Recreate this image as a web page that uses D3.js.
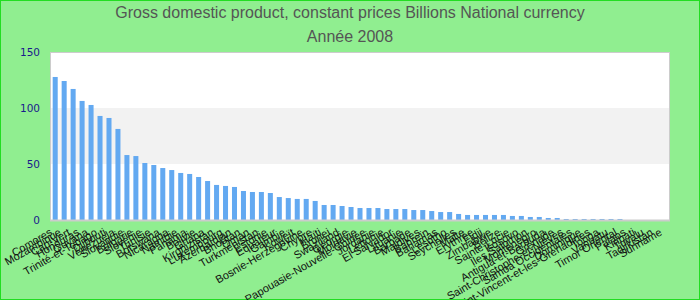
<!DOCTYPE html>
<html>
<head>
<meta charset="UTF-8">
<title>GDP constant prices 2008</title>
<script src="https://d3js.org/d3.v7.min.js"></script>
<style>
  body {margin: 0; background: #90ee90;}
  .title {font-family: "Liberation Sans", Arial, sans-serif; fill: #555; text-anchor: middle;}
  .yaxis text {font-family: "DejaVu Sans", Verdana, sans-serif; font-size: 10.5px; fill: #1a1a8c;}
  .xaxis text {font-family: "Liberation Sans", Arial, sans-serif; font-size: 11px; fill: #111;}
</style>
</head>
<body>
<div id="chart"></div>
<script>
// categories, in the order of the bars
var countries = ["Comores", "Mozambique", "Cap-Vert", "Honduras", "Guyana", "Trinité-et-Tobago",
  "Djibouti", "Vénézuela", "Slovaquie", "Bulgarie", "Slovénie", "Tunisie", "Botswana", "Nicaragua",
  "Namibie", "Panama", "Bolivie", "Ghana", "Kirghizistan", "Luxembourg", "Azerbaïdjan", "Bhoutan",
  "Oman", "Turkménistan", "Estonie", "Equateur", "Gambie", "Koweït", "Bosnie-Herzégovine", "Chypre",
  "Haïti", "Brunei", "Swaziland", "Géorgie", "Moldavie", "Papouasie-Nouvelle-Guinée", "Jordanie",
  "Lettonie", "El Salvador", "Lituanie", "Barbade", "Maldives", "Bahreïn", "Bahamas", "Lesotho",
  "Seychelles", "Malte", "Érythrée", "Fidji", "Zimbabwe", "Belize", "Sainte-Lucie", "Kosovo",
  "Îles Salomon", "Monténégro", "Antigua-et-Barbuda", "Grenade", "Saint-Christophe-et-Niévès",
  "Samoa Occidentales", "Dominique", "Saint-Vincent-et-les-Grenadines", "Tonga", "Vanuatu",
  "Timor Oriental", "Palaos", "Kiribati", "Tuvalu", "Tadjikistan", "Suriname"];

// Billions national currency, 2008 (null = no data)
var gdp = [127.7, 124.1, 117.0, 106.3, 102.7, 92.9, 91.1, 81.3, 58.0, 57.1, 50.9, 49.1, 46.4, 44.6,
  42.0, 41.1, 38.4, 34.8, 31.3, 30.4, 29.5, 25.9, 25.0, 25.0, 24.1, 20.5, 19.6, 18.8, 18.8, 17.0,
  13.4, 13.4, 12.5, 11.6, 10.7, 10.7, 10.7, 9.8, 9.8, 9.8, 8.9, 8.9, 8.0, 7.1, 7.1, 5.4, 4.5, 4.5,
  4.5, 4.5, 4.5, 3.6, 3.6, 2.7, 2.7, 1.8, 1.8, 0.9, 0.9, 0.9, 0.9, 0.9, 0.9, 0.9,
  null, null, null, null, null];

var yTicks = [0, 50, 100, 150];
var bands = [[0, 50], [50, 100], [100, 150]];

var width = 700, height = 300;
var margin = {top: 52, right: 30, bottom: 80, left: 50};

var svg = d3.select("#chart").append("svg")
    .attr("width", width)
    .attr("height", height);

svg.append("rect")
    .attr("x", 0).attr("y", 0)
    .attr("width", width).attr("height", height)
    .attr("fill", "#90ee90")
    .attr("stroke", "#22dd22")
    .attr("stroke-width", 2);

svg.append("text").attr("class", "title")
    .attr("x", width / 2).attr("y", 18)
    .style("font-size", "16px")
    .text("Gross domestic product, constant prices Billions National currency");
svg.append("text").attr("class", "title")
    .attr("x", width / 2).attr("y", 42)
    .style("font-size", "16px")
    .text("Année 2008");

var x = d3.scaleBand()
    .domain(countries)
    .range([margin.left, width - margin.right])
    .paddingInner(0.44)
    .paddingOuter(0.3);

var y = d3.scaleLinear()
    .domain([0, 150])
    .range([height - margin.bottom, margin.top]);

// plot background with alternating bands
svg.append("g").selectAll("rect")
    .data(bands)
    .enter().append("rect")
    .attr("x", margin.left)
    .attr("y", function(d) {return y(d[1]);})
    .attr("width", width - margin.left - margin.right)
    .attr("height", function(d) {return y(d[0]) - y(d[1]);})
    .attr("fill", function(d, i) {return i % 2 ? "#f2f2f2" : "#ffffff";});

svg.append("rect")
    .attr("x", margin.left + 0.5).attr("y", y(150) + 0.5)
    .attr("width", width - margin.left - margin.right - 1)
    .attr("height", y(0) - y(150))
    .attr("fill", "none")
    .attr("stroke", "#cccccc");

var data = countries.map(function(c, i) {return {name: c, value: gdp[i]};});

svg.append("g").selectAll("rect")
    .data(data.filter(function(d) {return d.value != null;}))
    .enter().append("rect")
    .attr("x", function(d) {return x(d.name);})
    .attr("y", function(d) {return y(d.value);})
    .attr("width", x.bandwidth())
    .attr("height", function(d) {return y(0) - y(d.value);})
    .attr("fill", "#63a9f1");

svg.append("line")
    .attr("x1", margin.left).attr("x2", width - margin.right)
    .attr("y1", y(0) + 0.5).attr("y2", y(0) + 0.5)
    .attr("stroke", "#cccccc")
    .attr("stroke-width", 2);

var yAxis = svg.append("g")
    .attr("class", "yaxis")
    .attr("transform", "translate(" + (margin.left - 10) + ",0)")
    .call(d3.axisLeft(y).tickValues(yTicks).tickSize(0).tickPadding(0));
yAxis.select(".domain").remove();

var xAxis = svg.append("g")
    .attr("class", "xaxis")
    .attr("transform", "translate(0," + y(0) + ")")
    .call(d3.axisBottom(x).tickSize(0));
xAxis.select(".domain").remove();
xAxis.selectAll("text")
    .attr("x", 0).attr("y", 0)
    .attr("dy", "0.35em")
    .attr("transform", "translate(-4,11) rotate(-30)")
    .style("text-anchor", "end");
</script>
</body>
</html>
